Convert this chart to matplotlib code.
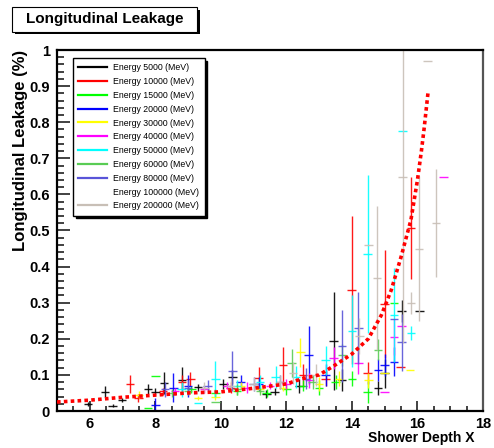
import matplotlib
matplotlib.use("Agg")
import matplotlib.pyplot as plt
from matplotlib.lines import Line2D
from matplotlib.patches import Rectangle
from matplotlib.ticker import MultipleLocator

plt.rcParams['font.family'] = ['Liberation Sans', 'DejaVu Sans']

# ---------------- data ----------------
energies = ["5000", "10000", "15000", "20000", "30000", "40000",
            "50000", "60000", "80000", "100000", "200000"]
colors = ["#000000", "#ff0000", "#00ff00", "#0000ff", "#ffff00", "#ff00ff",
          "#00ffff", "#59cc54", "#5954d8", "#ffffff", "#c8bfb6"]

x_5000 = [5.95, 6.47, 6.7, 6.99, 7.78, 8.0, 8.27, 8.82, 9.31, 10.08, 10.35, 11.39, 11.64, 12.4, 13.44, 13.7, 14.79, 15.0, 15.52, 16.07]
y_5000 = [0.02, 0.053, 0.015, 0.03, 0.061, 0.053, 0.078, 0.086, 0.066, 0.075, 0.094, 0.047, 0.053, 0.07, 0.194, 0.086, 0.064, 0.105, 0.277, 0.277]
e_5000 = [0.005, 0.015, 0.005, 0.006, 0.015, 0.01, 0.03, 0.035, 0.01, 0.015, 0.02, 0.01, 0.01, 0.02, 0.135, 0.03, 0.02, 0.04, 0.03, 0.0]

x_10000 = [7.23, 7.48, 8.24, 8.82, 9.07, 10.3, 11.15, 11.9, 12.5, 13.2, 13.99, 14.48, 15.0, 15.49, 15.8]
y_10000 = [0.075, 0.036, 0.055, 0.08, 0.089, 0.065, 0.091, 0.127, 0.1, 0.09, 0.335, 0.105, 0.296, 0.122, 0.507]
e_10000 = [0.025, 0.01, 0.01, 0.02, 0.02, 0.015, 0.03, 0.05, 0.03, 0.02, 0.205, 0.03, 0.15, 0.0, 0.14]

x_15000 = [7.78, 8.0, 9.1, 9.83, 10.5, 11.4, 12.0, 12.5, 13.0, 13.5, 14.0, 14.48, 15.28]
y_15000 = [0.008, 0.097, 0.06, 0.05, 0.055, 0.05, 0.06, 0.07, 0.065, 0.08, 0.09, 0.053, 0.3]
e_15000 = [0.0, 0.0, 0.01, 0.01, 0.01, 0.01, 0.015, 0.015, 0.02, 0.02, 0.02, 0.03, 0.0]

x_20000 = [8.0, 8.55, 9.0, 10.6, 11.15, 12.68, 13.2, 14.79, 15.0, 15.28]
y_20000 = [0.017, 0.064, 0.07, 0.08, 0.075, 0.155, 0.1, 0.114, 0.127, 0.136]
e_20000 = [0.02, 0.04, 0.03, 0.02, 0.02, 0.08, 0.03, 0.03, 0.03, 0.04]

x_30000 = [7.5, 9.31, 9.83, 10.6, 11.2, 11.9, 12.43, 13.0, 13.6, 14.5, 15.0, 15.77]
y_30000 = [0.045, 0.036, 0.04, 0.07, 0.06, 0.065, 0.163, 0.075, 0.09, 0.085, 0.105, 0.114]
e_30000 = [0.01, 0.005, 0.01, 0.01, 0.01, 0.01, 0.04, 0.02, 0.02, 0.02, 0.0, 0.0]

x_40000 = [8.6, 9.5, 10.2, 10.8, 11.5, 12.0, 12.7, 13.44, 14.2, 15.0, 15.28, 15.52, 16.8]
y_40000 = [0.055, 0.06, 0.07, 0.065, 0.07, 0.075, 0.085, 0.147, 0.133, 0.053, 0.205, 0.235, 0.648]
e_40000 = [0.01, 0.01, 0.01, 0.015, 0.01, 0.015, 0.02, 0.03, 0.03, 0.0, 0.05, 0.0, 0.0]

x_50000 = [8.8, 9.31, 9.83, 10.5, 11.2, 11.67, 12.3, 13.2, 14.0, 14.48, 15.28, 15.55, 15.8]
y_50000 = [0.06, 0.022, 0.089, 0.07, 0.08, 0.094, 0.095, 0.14, 0.222, 0.435, 0.266, 0.776, 0.216]
e_50000 = [0.02, 0.0, 0.05, 0.015, 0.02, 0.03, 0.03, 0.04, 0.1, 0.22, 0.13, 0.0, 0.02]

x_60000 = [8.5, 9.0, 9.83, 10.5, 11.2, 12.16, 12.8, 13.7, 14.79]
y_60000 = [0.05, 0.055, 0.025, 0.06, 0.055, 0.133, 0.08, 0.155, 0.17]
e_60000 = [0.01, 0.01, 0.0, 0.015, 0.01, 0.04, 0.02, 0.03, 0.03]

x_80000 = [8.3, 9.0, 9.6, 10.35, 11.0, 11.8, 12.6, 13.7, 14.2, 15.28, 15.52]
y_80000 = [0.06, 0.065, 0.07, 0.11, 0.075, 0.08, 0.09, 0.18, 0.23, 0.255, 0.19]
e_80000 = [0.02, 0.02, 0.015, 0.055, 0.02, 0.02, 0.03, 0.1, 0.1, 0.0, 0.08]

x_100000 = []
y_100000 = []
e_100000 = []

x_200000 = [9.5, 10.3, 11.0, 11.8, 12.2, 12.9, 14.23, 14.5, 14.76, 15.55, 15.8, 16.04, 16.3, 16.56]
y_200000 = [0.065, 0.07, 0.075, 0.08, 0.105, 0.1, 0.208, 0.46, 0.368, 0.648, 0.3, 0.45, 0.97, 0.52]
e_200000 = [0.015, 0.015, 0.02, 0.02, 0.03, 0.03, 0.05, 0.0, 0.2, 0.46, 0.03, 0.2, 0.0, 0.15]

fit_x = [5.0, 6.0, 7.0, 8.0, 9.0, 10.0, 11.0, 12.0, 12.5, 13.0, 13.5, 14.0, 14.5,
         14.9, 15.2, 15.5, 15.8, 16.0, 16.12, 16.2, 16.32]
fit_y = [0.025, 0.03, 0.038, 0.044, 0.05, 0.053, 0.063, 0.075, 0.09, 0.1, 0.128, 0.158, 0.2,
         0.266, 0.335, 0.427, 0.529, 0.64, 0.72, 0.78, 0.88]

xtick_vals = [6, 8, 10, 12, 14, 16, 18]
ytick_vals = [0, 0.1, 0.2, 0.3, 0.4, 0.5, 0.6, 0.7, 0.8, 0.9, 1]
ytick_labels = ["0", "0.1", "0.2", "0.3", "0.4", "0.5", "0.6", "0.7", "0.8", "0.9", "1"]

series = [
    (x_5000, y_5000, e_5000), (x_10000, y_10000, e_10000), (x_15000, y_15000, e_15000),
    (x_20000, y_20000, e_20000), (x_30000, y_30000, e_30000), (x_40000, y_40000, e_40000),
    (x_50000, y_50000, e_50000), (x_60000, y_60000, e_60000), (x_80000, y_80000, e_80000),
    (x_100000, y_100000, e_100000), (x_200000, y_200000, e_200000),
]
half_width = 0.13

# ---------------- figure ----------------
W, H = 494, 448
fig = plt.figure(figsize=(W / 100, H / 100), dpi=100)
ax = fig.add_axes([57 / W, 1 - 411 / H, (483 - 57) / W, (411 - 50) / H])

for (xs, ys, es), c in zip(series, colors):
    if not xs:
        continue
    ax.errorbar(xs, ys, yerr=es, xerr=[half_width] * len(xs), fmt='none',
                ecolor=c, elinewidth=1.0, capsize=0, alpha=0.9, zorder=2)

ax.plot(fit_x, fit_y, color='#ff0000', lw=2.6, linestyle=(0, (1.0, 0.9)),
        dash_capstyle='butt', zorder=5)

ax.set_xlim(5, 18)
ax.set_ylim(0, 1)
ax.set_xticks(xtick_vals)
ax.set_yticks(ytick_vals)
ax.set_yticklabels(ytick_labels)
ax.xaxis.set_minor_locator(MultipleLocator(0.5))
ax.yaxis.set_minor_locator(MultipleLocator(0.02))
ax.tick_params(axis='both', which='both', direction='in', top=False, right=False,
               width=1.3, color='#333333')
ax.tick_params(axis='x', which='major', length=7.5, pad=4)
ax.tick_params(axis='x', which='minor', length=3.8)
ax.tick_params(axis='y', which='major', length=9.5, pad=5)
ax.tick_params(axis='y', which='minor', length=5)
for lab in ax.get_xticklabels() + ax.get_yticklabels():
    lab.set_fontweight('bold')
    lab.set_fontsize(10.5)
for s in ax.spines.values():
    s.set_linewidth(1.6)
ax.spines['right'].set_color('#555555')

ax.set_xlabel("Shower Depth X", fontsize=10, fontweight='bold', loc='right')
ax.xaxis.set_label_coords(0.981, -0.055)
ax.set_ylabel("Longitudinal Leakage (%)", fontsize=12, fontweight='bold', loc='top')
ax.yaxis.set_label_coords(-0.068, 1.0)

# legend
handles = [Line2D([], [], color=c, lw=1.6) for c in colors]
labels = [f"Energy {e} (MeV)" for e in energies]
leg = ax.legend(handles, labels, loc='upper left',
                bbox_to_anchor=(73 / W, 1 - 58 / H), bbox_transform=fig.transFigure,
                fontsize=6.3, frameon=True, fancybox=False, borderaxespad=0,
                handlelength=3.3, handletextpad=0.7, labelspacing=0.55, borderpad=0.6,
                shadow={'color': 'black', 'alpha': 1.0})
leg.get_frame().set_edgecolor('black')
leg.get_frame().set_linewidth(1.0)
leg.set_zorder(10)

# title box with shadow
fig.add_artist(Rectangle((15 / W, 1 - 34 / H), (200 - 15) / W, (34 - 10) / H,
                         transform=fig.transFigure, facecolor='black', edgecolor='none'))
fig.add_artist(Rectangle((12 / W, 1 - 32 / H), (197 - 12) / W, (32 - 7) / H,
                         transform=fig.transFigure, facecolor='white', edgecolor='black', lw=0.8))
fig.text((12 + 197) / 2 / W, 1 - 19.5 / H, "Longitudinal Leakage", ha='center', va='center',
         fontsize=11, fontweight='bold')

fig.savefig("out.png", dpi=100)
